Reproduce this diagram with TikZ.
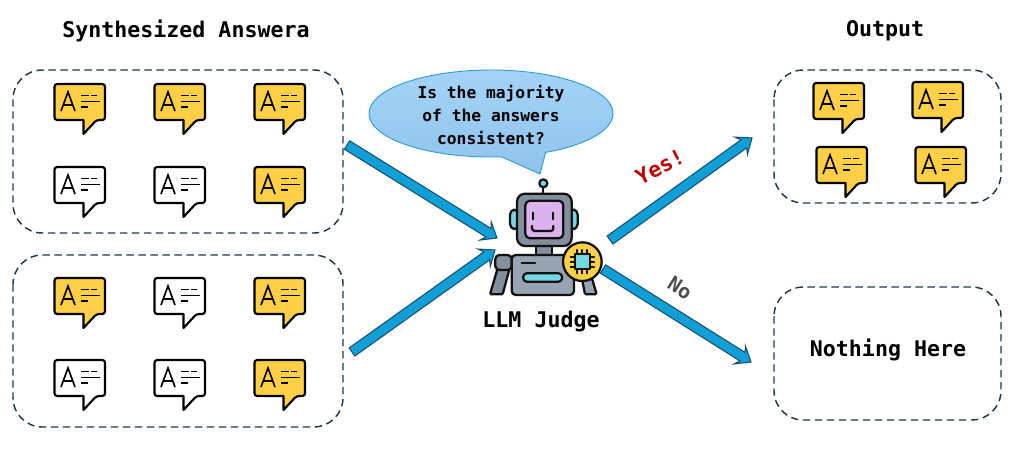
\documentclass[tikz,border=0pt]{standalone}
\usepackage{fontspec}
\setmainfont{DejaVu Sans Mono}[BoldFont={DejaVu Sans Mono Bold}]
\usetikzlibrary{calc}
\definecolor{noteyellow}{HTML}{FFD045}
\definecolor{panelline}{HTML}{1F3A4D}
\definecolor{flowfill}{HTML}{109FD6}
\definecolor{flowline}{HTML}{17506E}
\definecolor{bubbletop}{HTML}{A3D3F7}
\definecolor{bubblebot}{HTML}{90C3EC}
\definecolor{bubbleline}{HTML}{2A9FD6}
\definecolor{robotgray}{HTML}{98A4B3}
\definecolor{robotdark}{HTML}{848F9E}
\definecolor{robotface}{HTML}{DAB2EC}
\definecolor{robotcyan}{HTML}{74D7E4}
\definecolor{outline}{HTML}{111111}
\tikzset{
  panel/.style={draw=panelline,line width=1.1pt,dash pattern=on 5.5pt off 3.5pt,rounded corners=22pt},
  heading/.style={font=\bfseries\fontsize{16.2}{19}\selectfont,text=black,inner sep=0pt},
  bubbletext/.style={font=\bfseries\fontsize{12.2}{17.5}\selectfont,text=black,align=center,inner sep=0pt},
  flow/.style={draw=flowline,fill=flowfill,line width=0.8pt,line join=miter},
  part/.style={draw=outline,line width=1.7pt,line join=round,line cap=round},
  pics/note/.style={code={
    \draw[draw=black,fill=#1,line width=1.6pt,line join=round,rounded corners=2pt]
      (-25.5,-18) -- (25,-18) -- (25,18) -- (16.5,18) [sharp corners] -- (3.5,32) -- (3.5,18)
      [rounded corners=2pt] -- (-25.5,18) -- cycle;
    \draw[black,line width=1.25pt,line join=miter] (-19,9) -- (-12,-10) -- (-5,9);
    \draw[black,line width=1.25pt] (-16.5,3) -- (-7.5,3);
    \draw[black,line width=1.25pt] (1,-6.5) -- (9,-6.5) (11,-6.5) -- (17,-6.5)
      (1,-0.5) -- (20,-0.5) (1,5) -- (8,5);
  }}
}
% block arrow between two named points
\newcommand\blockarrow[2]{%
  \draw[flow]
    ($(#1)!3.7pt!90:(#2)$) --
    ($(#2)!7.5pt!(#1)!3.7pt!-90:(#1)$) --
    ($(#2)!10pt!(#1)!8pt!-90:(#1)$) --
    (#2) --
    ($(#2)!10pt!(#1)!8pt!90:(#1)$) --
    ($(#2)!7.5pt!(#1)!3.7pt!90:(#1)$) --
    ($(#1)!3.7pt!-90:(#2)$) -- cycle;}
\begin{document}
\begin{tikzpicture}[x=0.75pt,y=-0.75pt]
\useasboundingbox (0,0) rectangle (1020,450);
\fill[white] (0,0) rectangle (1020,450);

% dashed panels
\draw[panel] (13,70) rectangle (343,233);
\draw[panel] (13,255) rectangle (343,427);
\draw[panel] (774,70) rectangle (1001,203);
\draw[panel] (774,287) rectangle (1001,420);

% titles
\node[heading] (title) at (186,31) {Synthesized Answera};
\node[heading] (outtitle) at (885,31) {Output};
\node[heading] (nothing) at (888,350) {Nothing Here};
\node[heading] (judge) at (541,322) {LLM Judge};

% answer notes
\pic at (80,102) {note=noteyellow};
\pic at (180,102) {note=noteyellow};
\pic at (280,102) {note=noteyellow};
\pic at (80,185) {note=white};
\pic at (180,185) {note=white};
\pic at (280,185) {note=noteyellow};
\pic at (80,296) {note=noteyellow};
\pic at (180,296) {note=white};
\pic at (280,296) {note=noteyellow};
\pic at (80,378) {note=white};
\pic at (180,378) {note=white};
\pic at (280,378) {note=noteyellow};
\pic at (839,101) {note=noteyellow};
\pic at (938,100) {note=noteyellow};
\pic at (842,165) {note=noteyellow};
\pic at (941,165) {note=noteyellow};

% question bubble
\draw[draw=bubbleline,line width=0.7pt,top color=bubbletop,bottom color=bubblebot]
  plot[domain=63.4:-275,samples=140] ({491+122*cos(\x)},{113.5+43.5*sin(\x)})
  -- (540,174) -- cycle;
\node[bubbletext] (question) at (491,115) {Is the majority\\of the answers\\consistent?};

% flow arrows
\coordinate (a1s) at (347,145);
\coordinate (a1e) at (497,238);
\coordinate (a2s) at (352,352);
\coordinate (a2e) at (495,250);
\coordinate (a3s) at (610,240);
\coordinate (a3e) at (752,138);
\coordinate (a4s) at (603,269);
\coordinate (a4e) at (751,362);
\blockarrow{a1s}{a1e}
\blockarrow{a2s}{a2e}
\blockarrow{a3s}{a3e}
\blockarrow{a4s}{a4e}

% decision labels
\node[font=\bfseries\fontsize{16}{18}\selectfont,text=red!75!black,rotate=27,inner sep=0pt] (yes) at (660,167) {Yes!};
\node[font=\bfseries\fontsize{15}{17}\selectfont,text=black!70,rotate=-32,inner sep=0pt] (no) at (680,288) {No};

% robot
\begin{scope}[shift={(470,170)},x=0.25pt,y=-0.25pt]
  % antenna
  \draw[part] (220,45) -- (220,72);
  \draw[part,fill=robotcyan] (220,40) circle (12);
  % ears
  \draw[part,fill=robotcyan,rounded corners=3pt] (142,116) -- (120,122) -- (120,174) -- (142,180) -- cycle;
  \draw[part,fill=robotcyan,rounded corners=3pt] (303,116) -- (323,122) -- (323,174) -- (303,180) -- cycle;
  % neck
  \draw[part,fill=robotdark] (197,225) rectangle (245,258);
  % right forearm
  \draw[part,fill=robotgray,rounded corners=1pt] (335,322) -- (365,322) -- (380,373) -- (345,373) -- cycle;
  % left arm
  \draw[part,fill=robotdark,rounded corners=1pt] (82,298) -- (118,298) -- (98,373) -- (60,373) -- cycle;
  \draw[part,fill=robotdark,rounded corners=3pt] (76,300) -- (76,255) -- (125,255) -- (125,300) -- cycle;
  % torso
  \draw[part,fill=robotgray,rounded corners=3pt] (125,255) rectangle (312,375);
  \draw[part,fill=robotcyan,rounded corners=2.5pt] (160,310) rectangle (276,335);
  \draw[part] (155,280) -- (195,280);
  % head
  \draw[part,fill=robotdark,rounded corners=6pt] (141,71) rectangle (305,228);
  \draw[part,fill=robotface,rounded corners=3.5pt] (166,92) rectangle (280,205);
  \draw[part] (212,92) -- (245,92);
  \draw[part] (188,128) -- (188,148) (250,128) -- (250,148);
  \draw[part,rounded corners=2pt] (186,168) -- (186,183) -- (250,183) -- (250,168);
  % processor badge
  \draw[part,fill=noteyellow] (337,275) circle (58);
  \draw[part] (322,240) -- (322,310) (337,240) -- (337,310) (352,240) -- (352,310)
              (302,260) -- (372,260) (302,275) -- (372,275) (302,290) -- (372,290);
  \draw[part,fill=robotcyan] (315,253) rectangle (359,297);
\end{scope}
\end{tikzpicture}
\end{document}
